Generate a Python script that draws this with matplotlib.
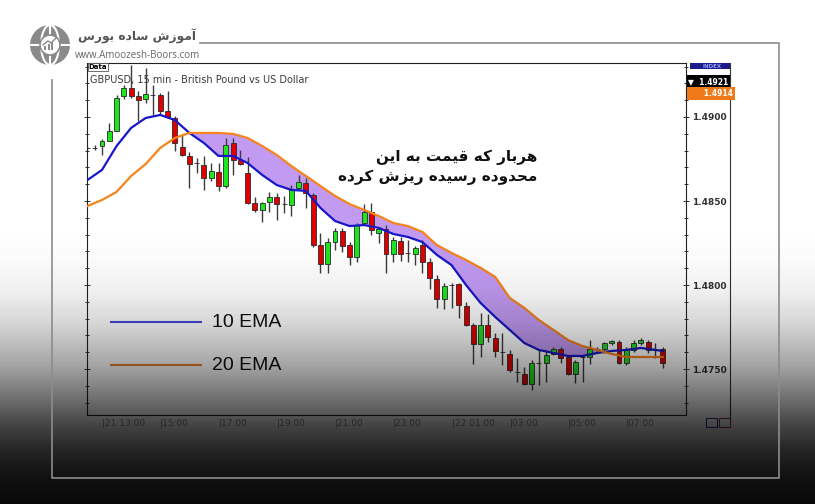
import numpy as np
import matplotlib
matplotlib.use('Agg')
import matplotlib.pyplot as plt
from matplotlib.patches import Circle, Ellipse, Rectangle

# GBPUSD 15 min candles
opens = [1.48816, 1.48816, 1.48827, 1.48857, 1.48917, 1.49125, 1.49173, 1.49125, 1.49107, 1.49131,
         1.49131, 1.49036, 1.48994, 1.48821, 1.48768, 1.48726, 1.48714, 1.48637, 1.48673, 1.48589,
         1.48845, 1.48744, 1.48667, 1.48488, 1.48447, 1.48494, 1.48524, 1.48482, 1.48476, 1.48578,
         1.48607, 1.48536, 1.48238, 1.48125, 1.48256, 1.48322, 1.48238, 1.48167, 1.48369, 1.48435,
         1.48310, 1.48334, 1.48185, 1.48262, 1.48191, 1.48185, 1.48238, 1.48137, 1.48036, 1.47917,
         1.48000, 1.48006, 1.47875, 1.47762, 1.47649, 1.47762, 1.47685, 1.47602, 1.47590, 1.47483,
         1.47471, 1.47411, 1.47536, 1.47536, 1.47590, 1.47620, 1.47572, 1.47471, 1.47572, 1.47572,
         1.47620, 1.47620, 1.47655, 1.47661, 1.47536, 1.47614, 1.47655, 1.47661, 1.47614, 1.47620]
highs = [1.48827, 1.48833, 1.48869, 1.48964, 1.49131, 1.49190, 1.49310, 1.49155, 1.49292, 1.49190,
         1.49143, 1.49155, 1.49006, 1.48893, 1.48792, 1.48756, 1.48768, 1.48726, 1.48726, 1.48875,
         1.48875, 1.48804, 1.48762, 1.48524, 1.48494, 1.48554, 1.48548, 1.48530, 1.48595, 1.48655,
         1.48637, 1.48548, 1.48310, 1.48280, 1.48340, 1.48340, 1.48256, 1.48369, 1.48482, 1.48488,
         1.48345, 1.48357, 1.48286, 1.48286, 1.48268, 1.48232, 1.48268, 1.48161, 1.48060, 1.48012,
         1.48012, 1.48012, 1.47899, 1.47774, 1.47834, 1.47828, 1.47715, 1.47715, 1.47614, 1.47566,
         1.47512, 1.47554, 1.47614, 1.47614, 1.47631, 1.47631, 1.47578, 1.47554, 1.47584, 1.47673,
         1.47631, 1.47661, 1.47673, 1.47673, 1.47631, 1.47673, 1.47685, 1.47673, 1.47655, 1.47631]
lows = [1.48804, 1.48804, 1.48774, 1.48855, 1.48915, 1.49107, 1.49113, 1.48976, 1.49083, 1.49012,
        1.49020, 1.48994, 1.48798, 1.48770, 1.48578, 1.48667, 1.48566, 1.48619, 1.48560, 1.48578,
        1.48655, 1.48714, 1.48482, 1.48435, 1.48375, 1.48435, 1.48387, 1.48429, 1.48411, 1.48566,
        1.48459, 1.48226, 1.48072, 1.48072, 1.48209, 1.48197, 1.48119, 1.48137, 1.48357, 1.48298,
        1.48250, 1.48072, 1.48137, 1.48143, 1.48137, 1.48119, 1.48072, 1.47977, 1.47864, 1.47858,
        1.47864, 1.47804, 1.47756, 1.47530, 1.47572, 1.47661, 1.47572, 1.47524, 1.47483, 1.47423,
        1.47405, 1.47376, 1.47405, 1.47423, 1.47584, 1.47536, 1.47465, 1.47417, 1.47423, 1.47530,
        1.47608, 1.47596, 1.47643, 1.47530, 1.47524, 1.47602, 1.47643, 1.47596, 1.47566, 1.47507]
closes = [1.48818, 1.48818, 1.48857, 1.48917, 1.49113, 1.49173, 1.49125, 1.49101, 1.49137, 1.49128,
          1.49036, 1.49000, 1.48845, 1.48774, 1.48720, 1.48724, 1.48637, 1.48679, 1.48589, 1.48833,
          1.48744, 1.48720, 1.48488, 1.48447, 1.48488, 1.48524, 1.48482, 1.48480, 1.48572, 1.48613,
          1.48548, 1.48238, 1.48125, 1.48256, 1.48322, 1.48232, 1.48167, 1.48357, 1.48435, 1.48328,
          1.48334, 1.48185, 1.48268, 1.48185, 1.48189, 1.48221, 1.48137, 1.48042, 1.47917, 1.47994,
          1.47998, 1.47881, 1.47762, 1.47649, 1.47762, 1.47691, 1.47608, 1.47600, 1.47495, 1.47481,
          1.47411, 1.47536, 1.47534, 1.47584, 1.47620, 1.47566, 1.47471, 1.47542, 1.47570, 1.47620,
          1.47622, 1.47655, 1.47667, 1.47536, 1.47620, 1.47655, 1.47673, 1.47614, 1.47612, 1.47536]

# moving averages, read every second bar
ema_idx = list(range(0, 80, 2)) + [79]
ema10 = [1.48625, 1.48685, 1.48827, 1.48935, 1.48994, 1.49012, 1.48982, 1.48905, 1.48845, 1.48768,
         1.48768, 1.48726, 1.48655, 1.48595, 1.48566, 1.48560, 1.48459, 1.48381, 1.48351, 1.48357,
         1.48340, 1.48304, 1.48286, 1.48256, 1.48179, 1.48119, 1.48000, 1.47893, 1.47810, 1.47733,
         1.47655, 1.47614, 1.47596, 1.47578, 1.47578, 1.47596, 1.47608, 1.47614, 1.47626, 1.47614,
         1.47608]
ema20 = [1.48470, 1.48506, 1.48554, 1.48649, 1.48720, 1.48816, 1.48875, 1.48905, 1.48905, 1.48905,
         1.48899, 1.48875, 1.48827, 1.48774, 1.48708, 1.48649, 1.48589, 1.48530, 1.48482, 1.48447,
         1.48411, 1.48369, 1.48351, 1.48316, 1.48238, 1.48191, 1.48149, 1.48102, 1.48048, 1.47923,
         1.47864, 1.47792, 1.47733, 1.47673, 1.47637, 1.47614, 1.47590, 1.47572, 1.47572, 1.47572,
         1.47572]

price_ticks = [1.4750, 1.4800, 1.4850, 1.4900]
time_idx = [2, 10, 18, 26, 34, 42, 50, 58, 66, 74]
time_labels = ['21 13:00', '15:00', '17:00', '19:00', '21:00', '23:00', '22 01:00', '03:00', '05:00', '07:00']
bid_price = 1.4921
ask_price = 1.4914

note_lines = ['هربار که قیمت به این', 'محدوده رسیده ریزش کرده']
brand_fa = 'آموزش ساده بورس'
brand_url = 'www.Amoozesh-Boors.com'

# persian letters -> (isolated, final, initial, medial)
FORMS = {
    'ا': ('\uFE8D', '\uFE8E', None, None), 'آ': ('\uFE81', '\uFE82', None, None),
    'د': ('\uFEA9', '\uFEAA', None, None), 'ر': ('\uFEAD', '\uFEAE', None, None),
    'ز': ('\uFEAF', '\uFEB0', None, None), 'و': ('\uFEED', '\uFEEE', None, None),
    'ب': ('\uFE8F', '\uFE90', '\uFE91', '\uFE92'), 'ت': ('\uFE95', '\uFE96', '\uFE97', '\uFE98'),
    'ح': ('\uFEA1', '\uFEA2', '\uFEA3', '\uFEA4'), 'س': ('\uFEB1', '\uFEB2', '\uFEB3', '\uFEB4'),
    'ش': ('\uFEB5', '\uFEB6', '\uFEB7', '\uFEB8'), 'ق': ('\uFED5', '\uFED6', '\uFED7', '\uFED8'),
    'م': ('\uFEE1', '\uFEE2', '\uFEE3', '\uFEE4'), 'ن': ('\uFEE5', '\uFEE6', '\uFEE7', '\uFEE8'),
    'ه': ('\uFEE9', '\uFEEA', '\uFEEB', '\uFEEC'), 'ک': ('\uFB8E', '\uFB8F', '\uFB90', '\uFB91'),
    'ی': ('\uFBFC', '\uFBFD', '\uFBFE', '\uFBFF'),
}


def shape_fa(text):
    # no text shaping in matplotlib, so join letters by hand and flip to visual order
    out = []
    for k, ch in enumerate(text):
        if ch not in FORMS:
            out.append(ch)
            continue
        prev = text[k - 1] if k > 0 else ''
        nxt = text[k + 1] if k + 1 < len(text) else ''
        f = FORMS[ch]
        jp = prev in FORMS and FORMS[prev][2] is not None
        jn = nxt in FORMS and f[2] is not None
        if jp and jn:
            out.append(f[3])
        elif jp:
            out.append(f[1])
        elif jn:
            out.append(f[2])
        else:
            out.append(f[0])
    return ''.join(reversed(out))


fig = plt.figure(figsize=(8.15, 5.04), dpi=100)
fig.patch.set_facecolor('white')

# pixel space layer under the chart
ax_bg = fig.add_axes([0, 0, 1, 1], zorder=0)
ax_bg.set_xlim(0, 815)
ax_bg.set_ylim(504, 0)
ax_bg.axis('off')
ax_bg.plot([730, 730], [63, 420], color='#333333', lw=0.8)
ax_bg.add_patch(Rectangle((690, 63), 40, 6, fc='#1c1c8a', ec='none'))
ax_bg.text(712, 66, 'INDEX', fontsize=4, color='#9aa0ff', ha='center', va='center', weight='bold')
ax_bg.add_patch(Rectangle((706, 418), 11, 9, fc='none', ec='#3a3aa0', lw=0.8))
ax_bg.add_patch(Rectangle((719, 418), 11, 9, fc='none', ec='#a03a3a', lw=0.8))

# chart
ax = fig.add_axes([87 / 815, 89 / 504, 599 / 815, 352 / 504], zorder=1)
ax.set_facecolor('white')
idx = np.arange(len(opens))
o = np.array(opens)
c = np.array(closes)
colors = ['#1ee61e' if cc >= oo else '#e00000' for oo, cc in zip(o, c)]
body = np.where(np.abs(c - o) < 0.00002, 0.00002, c - o)
ax.vlines(idx, lows, highs, color='#3c3c3c', lw=1.0, zorder=2)
ax.bar(idx, body, bottom=o, width=0.68, color=colors, edgecolor='#2a2a2a', lw=0.6, zorder=3)

e10 = np.array(ema10)
e20 = np.array(ema20)
ax.fill_between(ema_idx, e10, e20, where=e10 < e20, interpolate=True, color='#c29af2', lw=0, zorder=1)
ax.plot(ema_idx, e10, color='#1717c8', lw=1.6, zorder=4)
ax.plot(ema_idx, e20, color='#f5841c', lw=1.6, zorder=4)

ax.set_xlim(-0.06, 82.2)
ax.set_ylim(1.47227, 1.49321)
ax.set_yticks(price_ticks)
ax.set_yticklabels(['%.4f' % p for p in price_ticks])
ax.set_yticks(np.arange(1.4730, 1.4935, 0.001), minor=True)
ax.tick_params(axis='y', which='both', left=True, right=True, labelleft=False, labelright=True,
               direction='inout', length=4, width=0.7, colors='#333333', labelsize=6.5, pad=2)
ax.tick_params(axis='y', which='minor', length=3)
for lab in ax.get_yticklabels():
    lab.set_fontweight('bold')
ax.set_xticks(time_idx)
ax.set_xticklabels(['|' + t for t in time_labels], ha='left')
ax.tick_params(axis='x', length=0, labelsize=6.5, labelcolor='#8a8a8a', pad=3)
for s in ax.spines.values():
    s.set_color('#222222')
    s.set_linewidth(0.8)

ax.text(0.003, 0.997, 'Data', transform=ax.transAxes, fontsize=5, weight='bold', va='top', ha='left',
        bbox=dict(fc='white', ec='#555555', lw=0.6, pad=0.8))
ax.text(0.005, 0.952, 'GBPUSD, 15 min - British Pound vs US Dollar', transform=ax.transAxes,
        fontsize=7, color='#3a3a3a', va='center', ha='left')

ax.text(1.004, bid_price, '\u25bc  %.4f' % bid_price, transform=ax.get_yaxis_transform(), fontsize=5.5,
        color='white', weight='bold', va='center', ha='left', clip_on=False,
        bbox=dict(fc='black', ec='none', pad=1.2))
ax.text(1.004, ask_price, '      %.4f' % ask_price, transform=ax.get_yaxis_transform(), fontsize=5.5,
        color='white', weight='bold', va='center', ha='left', clip_on=False,
        bbox=dict(fc='#f07a1a', ec='none', pad=1.2))

# legend drawn by hand like in the picture
ax.plot([0.040, 0.190], [0.264, 0.264], transform=ax.transAxes, color='#4646d6', lw=1.5)
ax.text(0.209, 0.264, '10 EMA', transform=ax.transAxes, fontsize=14, family='Liberation Sans',
        va='center', ha='left', color='#111111')
ax.plot([0.040, 0.190], [0.142, 0.142], transform=ax.transAxes, color='#e8802e', lw=1.5)
ax.text(0.209, 0.142, '20 EMA', transform=ax.transAxes, fontsize=14, family='Liberation Sans',
        va='center', ha='left', color='#111111')

# top layer: dark fade, frame, logo, note
ax_top = fig.add_axes([0, 0, 1, 1], zorder=5)
ax_top.set_xlim(0, 815)
ax_top.set_ylim(504, 0)
ax_top.axis('off')
rows = np.arange(504)
alpha = np.interp(rows, [0, 230, 260, 290, 322, 365, 400, 425, 450, 478, 504],
                  [0, 0, 0.02, 0.06, 0.16, 0.36, 0.58, 0.74, 0.86, 0.94, 0.97])
fade = np.zeros((504, 1, 4))
fade[:, 0, 3] = alpha
ax_top.imshow(fade, extent=(0, 815, 504, 0), aspect='auto', interpolation='bilinear', zorder=1)

ax_top.plot([200, 779, 779, 52, 52], [43, 43, 478, 478, 80], color='#8c8c8c', lw=1.2, zorder=2)

ax_top.add_patch(Circle((50, 45), 20, fc='#8a8a8a', ec='none', zorder=3))
ax_top.add_patch(Ellipse((50, 45), 18, 40, fc='none', ec='white', lw=1.5, zorder=4))
ax_top.plot([30, 70], [45, 45], color='white', lw=1.5, zorder=4)
ax_top.plot([50, 50], [25, 65], color='white', lw=1.5, zorder=4)
ax_top.add_patch(Circle((50, 45), 10, fc='white', ec='#8a8a8a', lw=1.2, zorder=5))
for bx, bh in [(45, 4), (48.5, 6), (52, 8)]:
    ax_top.add_patch(Rectangle((bx - 1, 50 - bh), 2.2, bh, fc='#8a8a8a', ec='none', zorder=6))
ax_top.plot([43, 48, 51, 56], [45, 41, 43, 38], color='#8a8a8a', lw=1, zorder=6)

ax_top.text(196, 36, shape_fa(brand_fa), family=['DejaVu Sans'], weight='bold', fontsize=8.8,
            color='#555555', ha='right', va='center', zorder=6)
ax_top.text(75, 56, brand_url, family='Open Sans', fontsize=7, color='#666666',
            ha='left', va='center', zorder=6)

ax_top.text(537, 157, shape_fa(note_lines[0]), family=['DejaVu Sans'], weight='bold', fontsize=11,
            color='#111111', ha='right', va='center', zorder=6)
ax_top.text(537, 177, shape_fa(note_lines[1]), family=['DejaVu Sans'], weight='bold', fontsize=11,
            color='#111111', ha='right', va='center', zorder=6)

fig.savefig('out.png', dpi=100)
